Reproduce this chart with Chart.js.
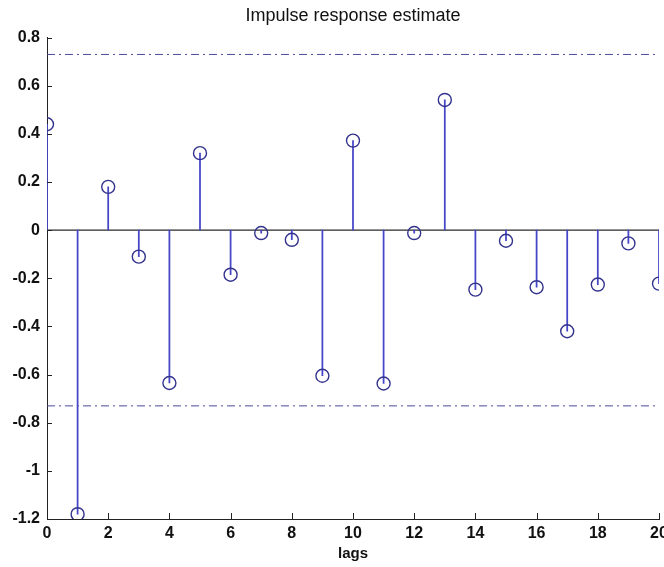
<!DOCTYPE html>
<html>
<head>
<meta charset="utf-8">
<script src="https://cdn.jsdelivr.net/npm/chart.js@4"></script>
<style>
  html, body { margin: 0; padding: 0; background: #fff; overflow: hidden; }
  #wrap { width: 700px; height: 567px; }
</style>
</head>
<body>
<div id="wrap"><canvas id="chart" width="700" height="567"></canvas></div>
<script>
const lags = [0, 1, 2, 3, 4, 5, 6, 7, 8, 9, 10, 11, 12, 13, 14, 15, 16, 17, 18, 19, 20];
const impulse = [0.44, -1.18, 0.18, -0.11, -0.635, 0.32, -0.185, -0.012, -0.04, -0.605, 0.372,
                 -0.637, -0.012, 0.541, -0.247, -0.044, -0.237, -0.42, -0.226, -0.055, -0.222];
const confBound = 0.73;
const xTicks = [0, 2, 4, 6, 8, 10, 12, 14, 16, 18, 20];
const yTicks = [-1.2, -1, -0.8, -0.6, -0.4, -0.2, 0, 0.2, 0.4, 0.6, 0.8];

const stemColor = '#4646c8';
const markColor = '#33338e';
const font = 'Liberation Sans, Arial, Helvetica, sans-serif';

const points = lags.map((x, i) => ({ x: x, y: impulse[i] }));

// MATLAB style ticks pointing into the axes
const innerTicks = {
  id: 'innerTicks',
  afterDatasetsDraw(chart) {
    const ctx = chart.ctx;
    const xs = chart.scales.x, ys = chart.scales.y;
    ctx.save();
    ctx.strokeStyle = '#222';
    ctx.lineWidth = 1;
    ctx.beginPath();
    xs.ticks.forEach(t => {
      const px = Math.round(xs.getPixelForValue(t.value)) + 0.5;
      ctx.moveTo(px, ys.bottom);
      ctx.lineTo(px, ys.bottom - 6);
    });
    ys.ticks.forEach(t => {
      const py = Math.round(ys.getPixelForValue(t.value)) + 0.5;
      ctx.moveTo(xs.left, py);
      ctx.lineTo(xs.left + 5, py);
    });
    ctx.stroke();
    ctx.restore();
  }
};

new Chart(document.getElementById('chart'), {
  type: 'scatter',
  data: {
    datasets: [
      {
        type: 'line',
        data: [{ x: lags[0], y: confBound }, { x: lags[lags.length - 1], y: confBound }],
        borderColor: '#4a4a9c',
        borderWidth: 1,
        borderDash: [8, 4, 2, 4],
        pointRadius: 0,
        order: 4
      },
      {
        type: 'line',
        data: [{ x: lags[0], y: -confBound }, { x: lags[lags.length - 1], y: -confBound }],
        borderColor: '#4a4a9c',
        borderWidth: 1,
        borderDash: [8, 4, 2, 4],
        pointRadius: 0,
        order: 4
      },
      {
        type: 'line',
        data: [{ x: lags[0], y: 0 }, { x: lags[lags.length - 1], y: 0 }],
        borderColor: '#2a2a2a',
        borderWidth: 1.2,
        pointRadius: 0,
        order: 3
      },
      {
        type: 'bar',
        data: points,
        backgroundColor: stemColor,
        borderWidth: 0,
        barThickness: 1.1,
        order: 2
      },
      {
        type: 'scatter',
        data: points,
        pointStyle: 'circle',
        pointRadius: 6.5,
        pointBackgroundColor: 'rgba(0,0,0,0)',
        pointBorderColor: markColor,
        pointBorderWidth: 1.4,
        order: 1
      }
    ]
  },
  options: {
    responsive: false,
    animation: false,
    layout: { padding: { left: 0, right: 41, top: 0, bottom: 0 } },
    plugins: {
      legend: { display: false },
      tooltip: { enabled: false },
      title: {
        display: true,
        fullSize: false,
        text: 'Impulse response estimate',
        color: '#111',
        font: { family: font, size: 18, weight: 'normal' },
        padding: { top: 5, bottom: 11 }
      }
    },
    scales: {
      x: {
        type: 'linear',
        min: 0,
        max: 20,
        offset: false,
        grid: { display: false, drawTicks: false },
        border: { display: true, color: '#222', width: 1 },
        afterBuildTicks: scale => { scale.ticks = xTicks.map(v => ({ value: v })); },
        afterFit: scale => { scale.height = 48; },
        ticks: {
          color: '#111',
          padding: 5,
          maxRotation: 0,
          autoSkip: false,
          font: { family: font, size: 16, weight: 'bold' },
          callback: v => String(v)
        },
        title: {
          display: true,
          text: 'lags',
          color: '#111',
          font: { family: font, size: 15, weight: 'bold' },
          padding: { top: 0, bottom: 4 }
        }
      },
      y: {
        min: -1.2,
        max: 0.8,
        grid: { display: false, drawTicks: false },
        border: { display: true, color: '#222', width: 1 },
        afterBuildTicks: scale => { scale.ticks = yTicks.map(v => ({ value: v })); },
        afterFit: scale => { scale.width = 47; },
        ticks: {
          color: '#111',
          padding: 7,
          autoSkip: false,
          font: { family: font, size: 16, weight: 'bold' },
          callback: v => String(v)
        }
      }
    }
  },
  plugins: [innerTicks]
});
</script>
</body>
</html>
